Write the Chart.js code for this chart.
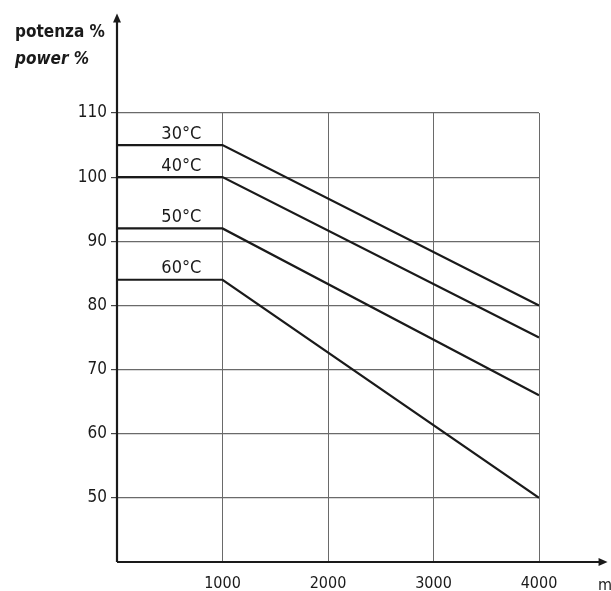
<!DOCTYPE html>
<html>
<head>
<meta charset="utf-8">
<script src="https://cdn.jsdelivr.net/npm/chart.js@4.4.1/dist/chart.umd.min.js"></script>
<style>
  html, body { margin: 0; padding: 0; background: #fff; }
  canvas { display: block; }
</style>
</head>
<body>
<canvas id="derating" width="611" height="591"></canvas>
<script>
// altitude (m) vs. available power (%) per ambient temperature
const altitudes = [0, 1000, 4000];
const power30 = [105, 105, 80];
const power40 = [100, 100, 75];
const power50 = [92, 92, 66];
const power60 = [84, 84, 50];
const tempLabels = ['30°C', '40°C', '50°C', '60°C'];
const xTickLabels = [1000, 2000, 3000, 4000];
const yTickLabels = [50, 60, 70, 80, 90, 100, 110];

const FONT = '"DejaVu Sans Condensed", "Liberation Sans Narrow", "Liberation Sans", sans-serif';
const INK = '#1a1a1a';

function toPoints(ys) {
    return altitudes.map((x, i) => ({ x: x, y: ys[i] }));
}

let datasets = [power30, power40, power50, power60].map((ys, i) => ({
    label: tempLabels[i],
    data: toPoints(ys),
    borderColor: INK,
    borderWidth: 2.2,
    pointRadius: 0,
    tension: 0,
    fill: false
}));

// axis arrows, axis titles and curve labels
const extras = {
    id: 'extras',
    afterDraw(chart) {
        const ctx = chart.ctx;
        const xs = chart.scales.x, ys = chart.scales.y;
        const x0 = xs.getPixelForValue(0), y0 = ys.getPixelForValue(40);
        const xEnd = xs.getPixelForValue(4650), yEnd = ys.getPixelForValue(125.5);

        ctx.save();
        ctx.strokeStyle = INK;
        ctx.fillStyle = INK;
        ctx.lineWidth = 2.2;
        ctx.beginPath();
        ctx.moveTo(x0, y0);
        ctx.lineTo(xEnd - 4, y0);
        ctx.moveTo(x0, y0);
        ctx.lineTo(x0, yEnd + 4);
        ctx.stroke();

        ctx.beginPath();
        ctx.moveTo(xEnd, y0);
        ctx.lineTo(xEnd - 9, y0 - 4);
        ctx.lineTo(xEnd - 9, y0 + 4);
        ctx.closePath();
        ctx.fill();
        ctx.beginPath();
        ctx.moveTo(x0, yEnd);
        ctx.lineTo(x0 - 4, yEnd + 9);
        ctx.lineTo(x0 + 4, yEnd + 9);
        ctx.closePath();
        ctx.fill();

        ctx.font = 'bold 17px ' + FONT;
        ctx.textAlign = 'left';
        ctx.textBaseline = 'middle';
        ctx.fillText('potenza %', 15, 33);
        ctx.font = 'italic bold 17px ' + FONT;
        ctx.fillText('power %', 15, 60);

        ctx.font = '16px ' + FONT;
        ctx.textBaseline = 'alphabetic';
        ctx.fillText('m', 598, 590);

        ctx.font = '18px ' + FONT;
        ctx.textAlign = 'center';
        ctx.textBaseline = 'bottom';
        chart.data.datasets.forEach(ds => {
            const px = xs.getPixelForValue(610);
            const py = ys.getPixelForValue(ds.data[0].y);
            ctx.fillText(ds.label, px, py - 2);
        });
        ctx.restore();
    }
};

new Chart(document.getElementById('derating'), {
    type: 'line',
    data: { datasets: datasets },
    plugins: [extras],
    options: {
        responsive: false,
        animation: false,
        layout: { padding: { left: 0, top: 113, right: 72, bottom: 0 } },
        plugins: {
            legend: { display: false },
            tooltip: { enabled: false }
        },
        scales: {
            x: {
                type: 'linear',
                min: 0,
                max: 4000,
                afterFit: s => { s.height = 29; },
                afterBuildTicks: s => { s.ticks = [0].concat(xTickLabels).map(v => ({ value: v })); },
                grid: { color: '#6a6a6a', lineWidth: 1, drawTicks: false },
                border: { display: false },
                ticks: {
                    padding: 12,
                    color: INK,
                    font: { family: FONT, size: 16 },
                    callback: v => v === 0 ? '' : String(v)
                }
            },
            y: {
                min: 40,
                max: 110,
                afterFit: s => { s.width = 117; },
                afterBuildTicks: s => { s.ticks = [40].concat(yTickLabels).map(v => ({ value: v })); },
                grid: {
                    color: '#6a6a6a',
                    lineWidth: 1.2,
                    tickLength: 6,
                    tickColor: c => c.tick && c.tick.value === 40 ? 'rgba(0,0,0,0)' : '#444'
                },
                border: { display: false },
                ticks: {
                    padding: 4,
                    color: INK,
                    font: { family: FONT, size: 17 },
                    callback: v => v === 40 ? '' : String(v)
                }
            }
        }
    }
});
</script>
</body>
</html>
